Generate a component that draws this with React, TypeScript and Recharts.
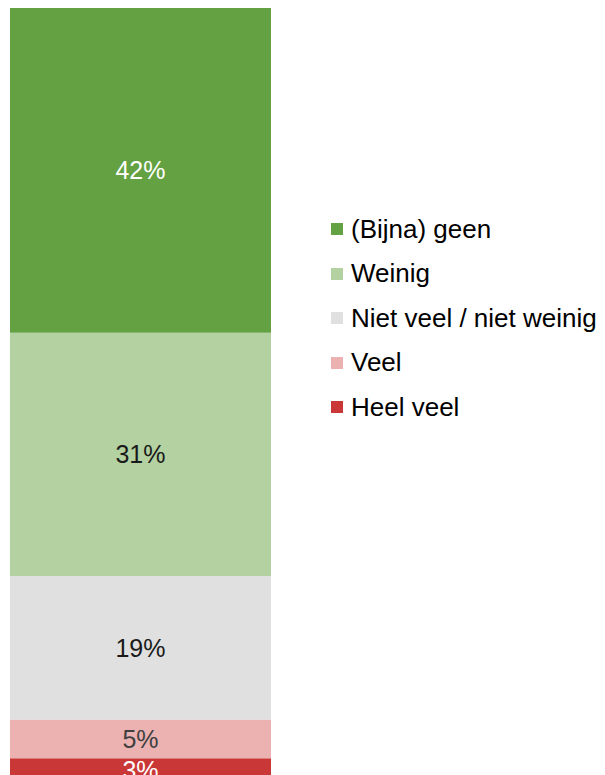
import { BarChart, Bar, XAxis, YAxis, LabelList } from "recharts";

// survey answer shares, in percent (top of bar first)
const answers = ["(Bijna) geen", "Weinig", "Niet veel / niet weinig", "Veel", "Heel veel"];
const shares = [41.9, 31.4, 18.5, 5.0, 3.2];
const colors = ["#64A142", "#B3D1A1", "#DFE0DF", "#EBB2B1", "#CA3737"];
const labelColors = ["#FFFFFF", "#1A1A1A", "#1A1A1A", "#404040", "#FFFFFF"];

const data = [
  answers.reduce<Record<string, number | string>>(
    (row, name, i) => {
      row[name] = shares[i];
      return row;
    },
    { group: "totaal" }
  ),
];

const font = "'Liberation Sans', Arial, sans-serif";

function LegendList() {
  return (
    <ul
      style={{
        position: "absolute",
        left: 323,
        top: 199,
        listStyle: "none",
        margin: 0,
        padding: 0,
        fontFamily: font,
      }}
    >
      {answers.map((name, i) => (
        <li
          key={name}
          style={{ display: "flex", alignItems: "center", height: 44.5, fontSize: 26, color: "#000", whiteSpace: "nowrap" }}
        >
          <span
            style={{ width: 12, height: 12, background: colors[i], display: "inline-block", marginRight: 8 }}
          />
          {name}
        </li>
      ))}
    </ul>
  );
}

export default function App() {
  // stack from the bottom up, so draw the list reversed
  const order = answers.map((_, i) => i).reverse();
  return (
    <div style={{ position: "relative", width: 597, height: 775 }}>
      <BarChart
        width={597}
        height={775}
        data={data}
        margin={{ top: 0, right: 334, left: 2, bottom: 0 }}
        barCategoryGap={0}
        style={{ fontFamily: font }}
      >
        <XAxis dataKey="group" hide />
        <YAxis hide domain={[0, 100]} />
        {order.map((i) => (
          <Bar
            key={answers[i]}
            dataKey={answers[i]}
            stackId="a"
            fill={colors[i]}
            isAnimationActive={false}
          >
            <LabelList
              dataKey={answers[i]}
              position="center"
              formatter={(v: any) => `${Math.round(Number(v))}%`}
              style={{ fontSize: 25, fill: labelColors[i], fontFamily: font }}
            />
          </Bar>
        ))}
      </BarChart>
      <LegendList />
    </div>
  );
}
